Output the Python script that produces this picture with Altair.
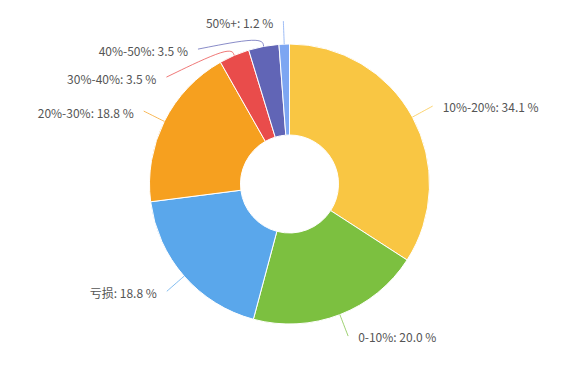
import altair as alt
import pandas as pd

categories = ["10%-20%", "0-10%", "亏损", "20%-30%", "30%-40%", "40%-50%", "50%+"]
values = [34.1, 20.0, 18.8, 18.8, 3.5, 3.5, 1.2]
colors = ["#F9C643", "#7CC040", "#5AA7EB", "#F6A01F", "#E94C4B", "#6165B6", "#7DA6F2"]

df = pd.DataFrame({"idx": list(range(len(categories))), "cat": categories, "val": values})

W, H = 560, 357
CX, CY = 281.5, 176
R_OUT, R_IN = 140, 49
R_MID = 150
R_LAB = 163
SP = 28

color_scale = alt.Scale(domain=categories, range=colors)

base = alt.Chart(df)

arcs = base.mark_arc(radius=R_OUT, radius2=R_IN, stroke="white", strokeWidth=1).encode(
    theta=alt.Theta("val:Q", stack=True, scale=alt.Scale(range=[0, 6.283185307])),
    order=alt.Order("idx:Q", sort="ascending"),
    color=alt.Color("cat:N", scale=color_scale, legend=None),
    x=alt.value(CX),
    y=alt.value(CY),
)

geo = (
    base.transform_window(cum="sum(val)", sort=[alt.SortField("idx")], frame=[None, 0])
    .transform_joinaggregate(total="sum(val)")
    .transform_calculate(a="(datum.cum - datum.val/2) / datum.total * 2 * PI")
    .transform_calculate(
        side="sin(datum.a) >= 0 ? 1 : -1",
        ny=f"{CY} - {R_LAB} * cos(datum.a)",
    )
    .transform_window(k="row_number()", sort=[alt.SortField("ny")], groupby=["side"])
    .transform_calculate(v=f"datum.ny - {SP} * datum.k")
    .transform_window(cm="max(v)", sort=[alt.SortField("ny")], groupby=["side"], frame=[None, 0])
    .transform_calculate(ly=f"datum.cm + {SP} * datum.k")
    .transform_calculate(
        lx=f"{CX} + datum.side * sqrt(max(0, {R_LAB}*{R_LAB} - (datum.ly - {CY})*(datum.ly - {CY})))",
        label="datum.cat + ': ' + format(datum.val, '.1f') + ' %'",
    )
)

lines = (
    geo.transform_calculate(pts="[0, 1, 2]")
    .transform_flatten(["pts"])
    .transform_calculate(
        px=f"datum.pts == 0 ? {CX} + {R_OUT}*sin(datum.a) : (datum.pts == 1 ? {CX} + {R_MID}*sin(datum.a) : datum.lx)",
        py=f"datum.pts == 0 ? {CY} - {R_OUT}*cos(datum.a) : (datum.pts == 1 ? {CY} - {R_MID}*cos(datum.a) : datum.ly)",
    )
    .mark_line(interpolate="basis", strokeWidth=1, opacity=0.75)
    .encode(
        x=alt.X("px:Q", scale=None, axis=None),
        y=alt.Y("py:Q", scale=None, axis=None),
        detail="cat:N",
        order=alt.Order("pts:Q"),
        color=alt.Color("cat:N", scale=color_scale, legend=None),
    )
)

text_common = dict(fontSize=12, font="Noto Sans CJK SC", color="#555555", baseline="middle")

texts_right = (
    geo.transform_filter("datum.side > 0")
    .transform_calculate(tx="datum.lx + 10", ty="datum.ly + 2")
    .mark_text(align="left", **text_common)
    .encode(
        x=alt.X("tx:Q", scale=None, axis=None),
        y=alt.Y("ty:Q", scale=None, axis=None),
        text="label:N",
    )
)

texts_left = (
    geo.transform_filter("datum.side < 0")
    .transform_calculate(tx="datum.lx - 10", ty="datum.ly + 3")
    .mark_text(align="right", **text_common)
    .encode(
        x=alt.X("tx:Q", scale=None, axis=None),
        y=alt.Y("ty:Q", scale=None, axis=None),
        text="label:N",
    )
)

chart = (
    alt.layer(arcs, lines, texts_right, texts_left)
    .properties(width=W, height=H, padding=0, autosize=alt.AutoSizeParams(type="none"))
    .configure_view(stroke=None)
)

chart.save("out.html", embed_options={"renderer": "svg", "actions": False})
